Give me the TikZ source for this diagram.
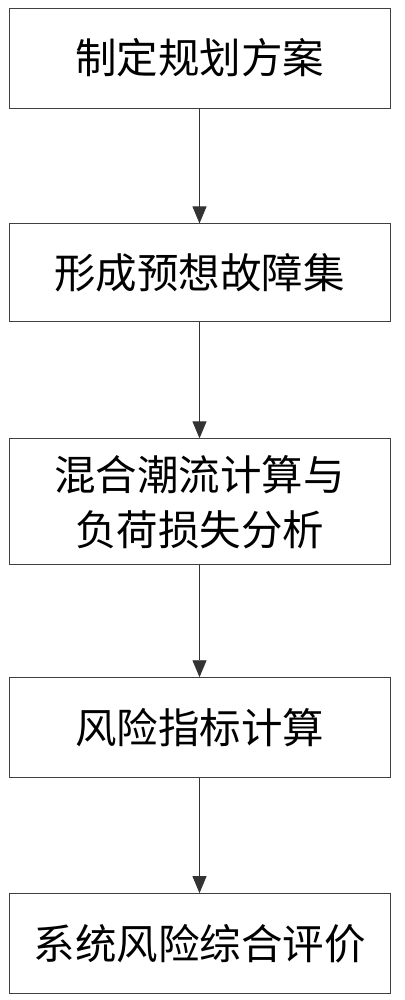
\documentclass[tikz,border=0pt]{standalone}
\usepackage{fontspec}
\setmainfont{Noto Sans CJK SC}
\usetikzlibrary{arrows.meta,positioning}

\begin{document}
\begin{tikzpicture}[x=1pt,y=1pt,every node/.style={font=\fontsize{41.5}{55}\selectfont,align=center},b/.style={draw=black!75,line width=0.9pt,minimum width=381pt,minimum height=100pt,inner sep=0pt},>={Triangle[length=17pt,width=14pt]},node distance=115pt]
\useasboundingbox (0,0) rectangle (404,-1000);
\node[b] (plan) at (199.5,-58) {制定规划方案};
\node[b,below=of plan,minimum height=98pt] (fault) {形成预想故障集};
\node[b,below=116pt of fault,minimum height=126pt] (flow) {混合潮流计算与\\负荷损失分析};
\node[b,below=112pt of flow] (index) {风险指标计算};
\node[b,below=of index] (eval) {系统风险综合评价};
\draw[->,black!80,line width=0.9pt] (plan)--(fault);\draw[->,black!80,line width=0.9pt] (fault)--(flow);
\draw[->,black!80,line width=0.9pt] (flow)--(index);\draw[->,black!80,line width=0.9pt] (index)--(eval);
\end{tikzpicture}
\end{document}
